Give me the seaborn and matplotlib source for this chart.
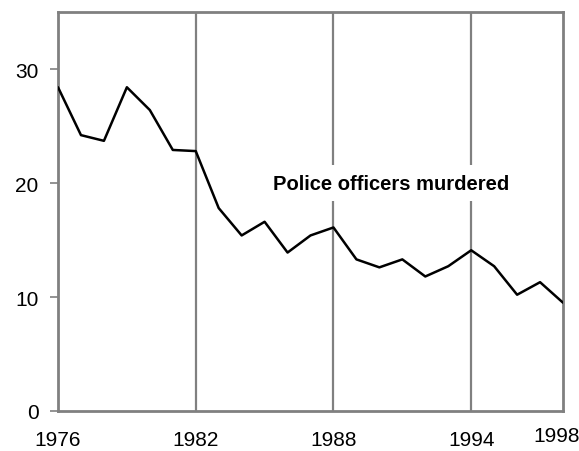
import matplotlib
matplotlib.use('Agg')
import matplotlib.pyplot as plt
import matplotlib.transforms as mtransforms
import seaborn as sns
import pandas as pd

years = list(range(1976, 1999))
murdered = [28.4, 24.2, 23.7, 28.4, 26.4, 22.9, 22.8, 17.8, 15.4, 16.6, 13.9,
            15.4, 16.1, 13.3, 12.6, 13.3, 11.8, 12.7, 14.1, 12.7, 10.2, 11.3, 9.5]
xtick_years = [1976, 1982, 1988, 1994, 1998]
grid_years = [1982, 1988, 1994]
yticks = [0, 10, 20, 30]

df = pd.DataFrame({'year': years, 'rate': murdered})

sns.set_style('white')
plt.rcParams['font.family'] = ['Liberation Sans', 'DejaVu Sans']

fig = plt.figure(figsize=(5.79, 4.52), dpi=100)
ax = fig.add_axes([0.1002, 0.0885, 0.8722, 0.8827])

gray = '#808080'
for g in grid_years:
    ax.axvline(g, color=gray, lw=1.6, zorder=1)

sns.lineplot(data=df, x='year', y='rate', ax=ax, color='black', lw=1.8, zorder=3)

ax.set_xlim(1976, 1998)
ax.set_ylim(0, 35)
ax.set_xticks(xtick_years)
ax.set_yticks(yticks)
ax.set_xlabel('')
ax.set_ylabel('')
for s in ax.spines.values():
    s.set_color(gray)
    s.set_linewidth(2)
ax.tick_params(axis='y', left=True, length=6, width=1.2, color=gray, pad=8,
               labelsize=15, labelcolor='black')
ax.tick_params(axis='x', bottom=False, length=0, pad=14, labelsize=15, labelcolor='black')

# 1998 sits a bit higher and to the left in the original
lab = ax.get_xticklabels()[-1]
lab.set_transform(lab.get_transform() + mtransforms.ScaledTranslation(-0.06, 0.04, fig.dpi_scale_trans))

ax.text(1990.5, 20, 'Police officers murdered', ha='center', va='center',
        fontsize=14.5, fontweight='bold', color='black', zorder=4,
        bbox=dict(facecolor='white', edgecolor='none', pad=6))

fig.savefig('out.png', dpi=100)
